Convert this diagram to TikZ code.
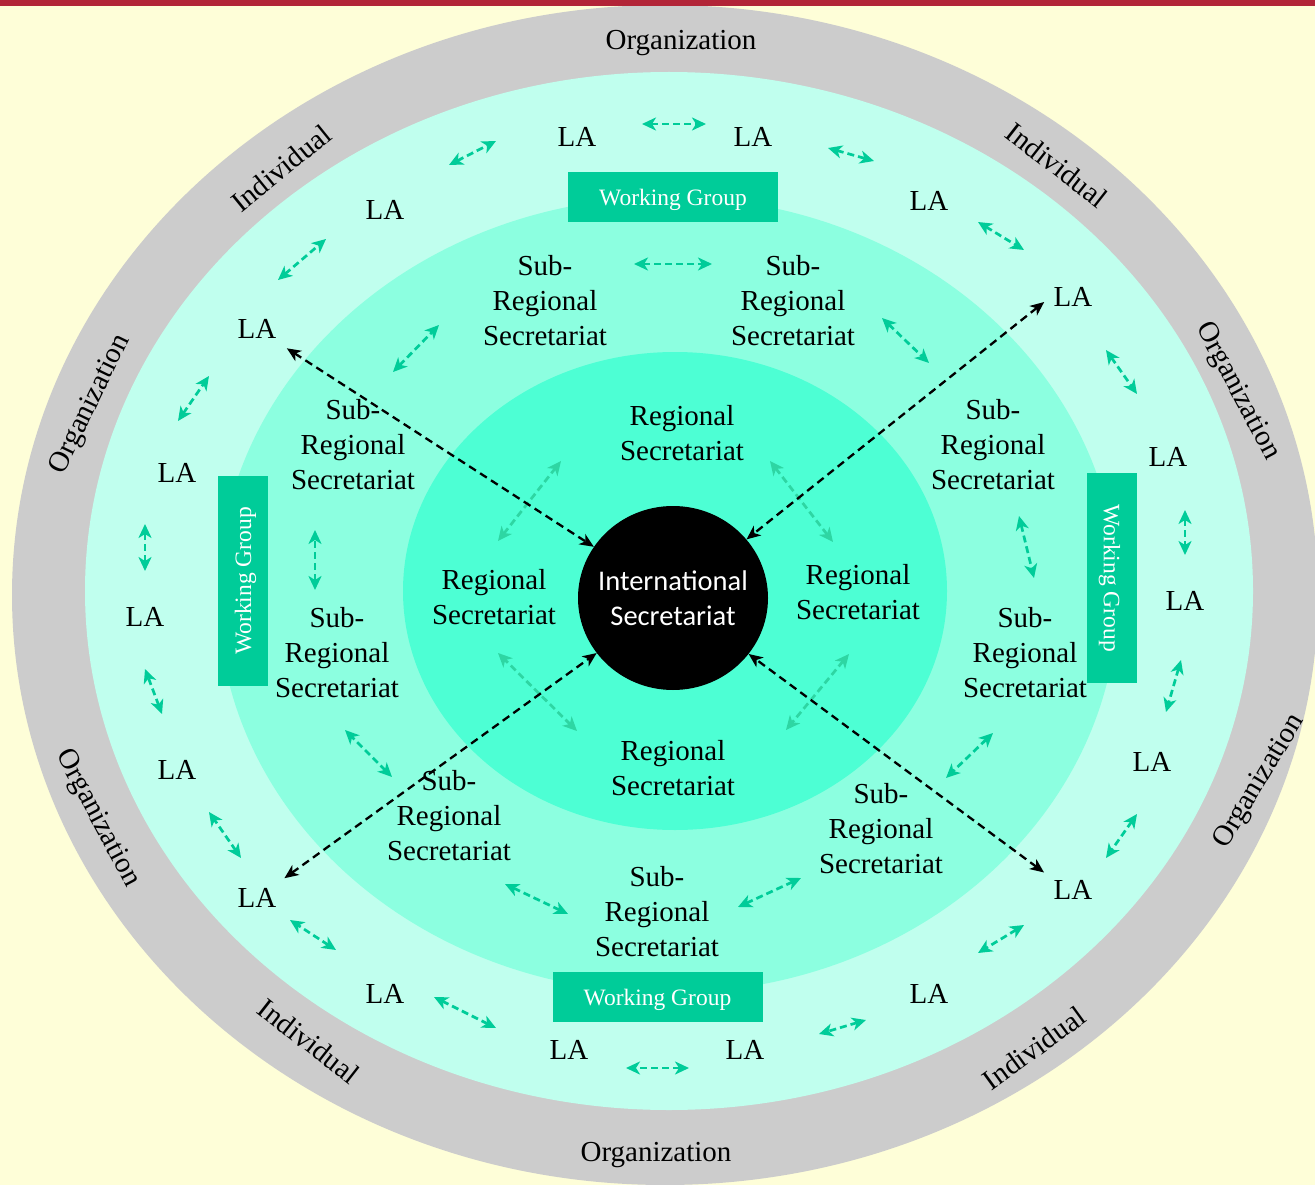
\documentclass[tikz,border=0pt]{standalone}
\usepackage{fontspec}
\setmainfont{Liberation Serif}
\newfontfamily\isfont{Carlito}
\usetikzlibrary{arrows.meta,shapes.geometric}
\definecolor{bgyellow}{HTML}{FEFED8}
\definecolor{topred}{HTML}{B22538}
\definecolor{ringgray}{HTML}{CCCCCC}
\definecolor{ringlight}{HTML}{C0FFEE}
\definecolor{ringmid}{HTML}{8CFFE0}
\definecolor{ringinner}{HTML}{4DFFD4}
\definecolor{wggreen}{HTML}{00CC99}
\definecolor{arrgreen}{HTML}{00CC99}
\definecolor{arrgreenlight}{HTML}{2ED6A3}
\tikzset{
  txt/.style={font=\fontsize{29}{35}\selectfont, align=center, inner sep=0pt, text=black, text depth=0pt},
  latxt/.style={font=\fontsize{29}{35}\selectfont, inner sep=3pt, text=black},
  wgbox/.style={fill=wggreen, text=white, font=\fontsize{23.5}{28}\selectfont, minimum width=210pt, minimum height=50pt, inner sep=0pt, text depth=0pt},
  isnode/.style={ellipse, fill=black, text=white, minimum width=190pt, minimum height=184pt, inner xsep=-10pt, inner ysep=0pt, align=center, font=\isfont\fontsize{28.5}{35}\selectfont},
  garrow/.style={draw=arrgreen, line width=2.7pt, dash pattern=on 7pt off 4pt, {Stealth[length=14pt,width=13pt,inset=4pt]}-{Stealth[length=14pt,width=13pt,inset=4pt]}},
  grarrow/.style={garrow, draw=arrgreenlight},
  barrow/.style={draw=black, line width=2.3pt, dash pattern=on 8pt off 5pt, {Stealth[length=14pt,width=12pt,inset=4pt]}-{Stealth[length=14pt,width=12pt,inset=4pt]}}
}
\begin{document}
\begin{tikzpicture}[x=1pt,y=-1pt]
\useasboundingbox (0,0) rectangle (1315,1185);
\clip (0,0) rectangle (1315,1185);
\fill[bgyellow] (0,0) rectangle (1315,1185);
% rings
\fill[ringgray] (665,595) ellipse [x radius=653pt, y radius=590pt];
\fill[ringlight] (669,591) ellipse [x radius=584pt, y radius=519pt];
\fill[ringmid] (668,595) ellipse [x radius=450pt, y radius=398pt];
\fill[ringinner] (675,591) ellipse [x radius=272pt, y radius=239pt];
\fill[topred] (0,0) rectangle (1315,6);

% outer ring labels
\node[txt] (orgT) at (681,40) {Organization};
\node[txt] (orgB) at (656,1152) {Organization};
\node[txt, rotate=64] (orgUL) at (88,403) {Organization};
\node[txt, rotate=-62] (orgLL) at (100,817) {Organization};
\node[txt, rotate=-62] (orgUR) at (1240,390) {Organization};
\node[txt, rotate=59] (orgLR) at (1257,780) {Organization};
\node[txt, rotate=39] (indUL) at (281,168) {Individual};
\node[txt, rotate=-38] (indUR) at (1057,165) {Individual};
\node[txt, rotate=-38] (indLL) at (309,1041) {Individual};
\node[txt, rotate=36] (indLR) at (1034,1048) {Individual};

% working groups
\node[wgbox] (wgT) at (673,197) {Working Group};
\node[wgbox] (wgB) at (657.5,997) {Working Group};
\node[wgbox, rotate=90] (wgL) at (243,581) {Working Group};
\node[wgbox, rotate=-90] (wgR) at (1112,578) {Working Group};

% LA nodes
\foreach \n/\x/\y in {1/577/137, 2/753/137, 3/929/201, 4/1073/297, 5/1168/457, 6/1185/601,
  7/1152/762, 8/1073/890, 9/929/994, 10/745/1050, 11/569/1050, 12/385/994, 13/257/898,
  14/177/770, 15/145/617, 16/177/473, 17/257/329, 18/385/210}
  {\node[latxt] (la\n) at (\x,\y) {LA};}

% sub-regional secretariats
\foreach \n/\x/\y in {1/545/300, 2/793/300, 3/993/444, 4/1025/652, 5/881/828, 6/657/911,
  7/449/815, 8/337/652, 9/353/444}
  {\node[txt] (sr\n) at (\x,\y) {Sub-\\Regional\\Secretariat};}

% regional secretariats
\node[txt] (rgT) at (682,433) {Regional\\Secretariat};
\node[txt] (rgR) at (858,592) {Regional\\Secretariat};
\node[txt] (rgB) at (673,768) {Regional\\Secretariat};
\node[txt] (rgL) at (494,597) {Regional\\Secretariat};

% international secretariat
\node[isnode] (is) at (673,598) {International\\Secretariat};

% green arrows in LA ring
\foreach \i/\ax/\ay/\bx/\by in {1/642/124/706/124, 2/828/148/874/161, 3/978/222/1024/250,
  4/1106/350/1137/394, 5/1185/510/1185/555, 6/1181/660/1166/712, 7/1137/814/1106/858,
  8/1024/925/978/953, 9/866/1020/819/1034, 10/689/1068/626/1068, 11/496/1028/434/997,
  12/336/950/290/920, 13/241/858/209/812, 14/162/714/145/669, 15/145/571/145/524,
  16/178/421/209/376, 17/278/280/326/239, 18/449/165/496/141}
  {\coordinate (ga\i) at (\ax,\ay); \coordinate (gb\i) at (\bx,\by);
   \draw[garrow] (ga\i) -- (gb\i);}

% green arrows in sub-regional ring
\foreach \i/\ax/\ay/\bx/\by in {1/634/264/712/264, 2/882/318/929/363, 3/1019/516/1034/578,
  4/993/733/946/778, 5/801/878/738/907, 6/568/914/505/884, 7/392/777/345/730,
  8/315/590/315/530, 9/393/372/439/325}
  {\coordinate (sa\i) at (\ax,\ay); \coordinate (sb\i) at (\bx,\by);
   \draw[garrow] (sa\i) -- (sb\i);}

% green arrows in regional ring
\foreach \i/\ax/\ay/\bx/\by in {1/770/461/833/542, 2/849/654/786/730, 3/577/731/498/653,
  4/498/541/561/461}
  {\coordinate (ra\i) at (\ax,\ay); \coordinate (rb\i) at (\bx,\by);
   \draw[grarrow] (ra\i) -- (rb\i);}

% black arrows from IS to LAs
\draw[barrow, shorten <=12pt] (la17) -- (is);
\draw[barrow, shorten <=12pt] (la13) -- (is);
\draw[barrow, shorten <=8pt] (la4.west) -- (is);
\draw[barrow, shorten <=8pt] (la8.north west) -- (is);
\end{tikzpicture}
\end{document}
